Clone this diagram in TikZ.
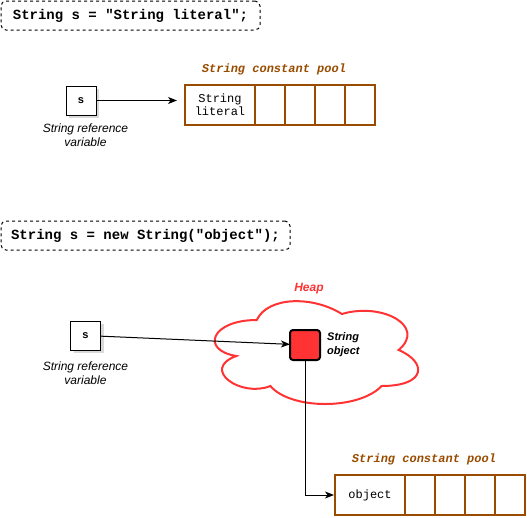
\documentclass[tikz,border=0pt]{standalone}
\usepackage{fontspec}
\setmainfont{Liberation Sans}
\setmonofont{Liberation Mono}
\usepackage{tikz}
\usetikzlibrary{positioning}
\usetikzlibrary{shadows}
\usetikzlibrary{arrows.meta}

\definecolor{poolbrown}{HTML}{994C00}
\definecolor{heapred}{HTML}{FF3333}

\begin{document}
\begin{tikzpicture}[x=1pt, y=-1pt,
    code/.style={draw, line width=1pt, dash pattern=on 3pt off 3pt, rounded corners=5pt, minimum height=29pt, inner sep=0pt, font=\fontsize{14}{16}\selectfont\ttfamily\bfseries},
    var/.style={draw, line width=1pt, fill=white, minimum width=30pt, minimum height=29pt, inner sep=0pt, font=\fontsize{11}{13}\selectfont\ttfamily\bfseries, drop shadow={shadow xshift=3pt, shadow yshift=-3pt, opacity=0.3}},
    note/.style={align=center, font=\fontsize{12}{14}\selectfont\itshape},
    pooltitle/.style={text=poolbrown, font=\fontsize{12}{14}\selectfont\ttfamily\bfseries\itshape},
    cell/.style={draw=poolbrown, line width=2pt, outer sep=0pt, minimum width=30pt, minimum height=40pt, inner sep=0pt, align=center, font=\fontsize{12}{13}\selectfont\ttfamily},
    firstcell/.style={cell, minimum width=70pt},
    obj/.style={draw, line width=2pt, fill=heapred, rounded corners=3pt, minimum size=30pt, inner sep=0pt, outer sep=0pt},
    link/.style={line width=1pt, -{Stealth[length=9pt, width=7pt, inset=2.5pt]}}]
    \useasboundingbox (0,0) rectangle (527,517);

    % String s = "String literal";
    \node[code, minimum width=259pt] (code1) at (130.5,15.5) {String s = "String literal";};
    \node[var] (s1) at (81,100.5) {s};
    \node[note] (ref1) at (85.5,135) {String reference\\variable};
    \node[pooltitle] (pool1) at (274,69) {String constant pool};
    \node[firstcell] (p1a) at (220,105) {String\\literal};
    \node[cell] (p1b) [right=0pt of p1a] {};
    \node[cell] (p1c) [right=0pt of p1b] {};
    \node[cell] (p1d) [right=0pt of p1c] {};
    \node[cell] (p1e) [right=0pt of p1d] {};
    \draw[link, shorten >=8pt] (s1.east) -- (s1.east -| p1a.west);

    % String s = new String("object");
    \node[code, minimum width=289pt] (code2) at (145.5,235.5) {String s = new String("object");};
    \node[var] (s2) at (85.5,335.5) {s};
    \node[note] (ref2) at (85.5,373) {String reference\\variable};

    % heap
    \begin{scope}[shift={(200,290)}, x=227pt, y=-120pt]
    \draw[heapred, line width=2pt, fill=white] (0.25,0.25)
        .. controls (0.05,0.25) and (0,0.5) .. (0.16,0.55)
        .. controls (0,0.66) and (0.18,0.9) .. (0.31,0.8)
        .. controls (0.4,1) and (0.7,1) .. (0.8,0.8)
        .. controls (1,0.8) and (1,0.6) .. (0.875,0.5)
        .. controls (1,0.3) and (0.8,0.1) .. (0.625,0.2)
        .. controls (0.5,0.05) and (0.3,0.05) .. cycle;
    \end{scope}
    \node[text=heapred, font=\fontsize{12}{14}\selectfont\bfseries\itshape] (heap) at (309,289) {Heap};
    \node[obj] (str) at (305,345) {};
    \node[align=left, anchor=west, inner sep=0pt, font=\fontsize{11}{14}\selectfont\bfseries\itshape] (strlbl) at (327,345) {String\\object};

    \node[pooltitle] (pool2) at (424,459) {String constant pool};
    \node[firstcell] (p2a) at (370,495) {object};
    \node[cell] (p2b) [right=0pt of p2a] {};
    \node[cell] (p2c) [right=0pt of p2b] {};
    \node[cell] (p2d) [right=0pt of p2c] {};
    \node[cell] (p2e) [right=0pt of p2d] {};

    \draw[link] (s2) -- (str);
    \draw[link, shorten >=1pt] (str.south) |- (p2a.west);
\end{tikzpicture}
\end{document}
